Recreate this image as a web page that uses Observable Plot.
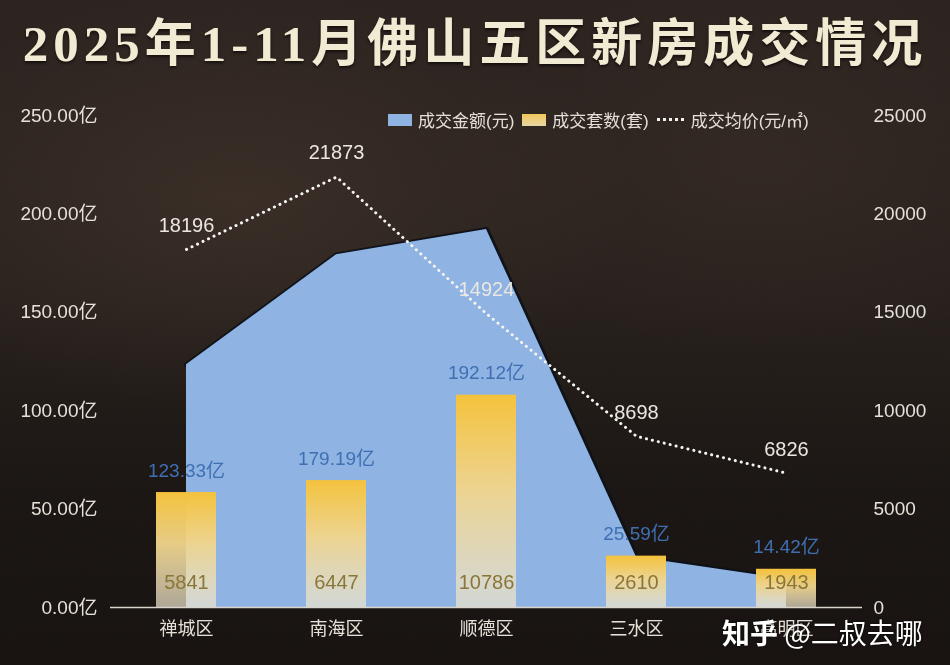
<!DOCTYPE html>
<html>
<head>
<meta charset="utf-8">
<script src="https://cdn.jsdelivr.net/npm/d3@7"></script>
<script src="https://cdn.jsdelivr.net/npm/@observablehq/plot@0.6"></script>
<style>
  html, body { margin: 0; padding: 0; }
  body { width: 950px; height: 665px; overflow: hidden; }
  #wrap {
    position: relative; width: 950px; height: 665px;
    background:
      radial-gradient(ellipse 60% 45% at 25% 30%, rgba(80,64,52,0.45), rgba(0,0,0,0) 70%),
      radial-gradient(ellipse 50% 40% at 80% 25%, rgba(70,56,46,0.35), rgba(0,0,0,0) 70%),
      linear-gradient(180deg, #2e2521 0%, #29211d 45%, #1c1714 75%, #191411 100%);
    font-family: "Liberation Sans", "Noto Sans CJK SC", sans-serif;
  }
  #noise { position: absolute; left: 0; top: 0; opacity: 0.22; mix-blend-mode: multiply; }
  #title {
    position: absolute; left: 0; width: 950px; top: 14px; text-align: center;
    font-family: "Liberation Serif", "Noto Sans CJK SC", serif;
    font-weight: bold; font-size: 51px; letter-spacing: 5px; color: #f2ebd3;
    line-height: 60px; text-shadow: 0 2px 3px rgba(0,0,0,0.6);
  }
  #legend {
    position: absolute; left: 388px; top: 107px; display: flex; align-items: center;
    font-size: 17px; color: #e4e0d8; white-space: nowrap;
  }
  #legend .sw { display: inline-block; width: 24px; height: 12px; margin-right: 6px; }
  #legend .item { display: flex; align-items: center; margin-right: 8px; }
  #legend .dots { display: inline-block; width: 27px; height: 0; border-top: 3px dotted #f4f2ee; margin-right: 7px; }
  #chart { position: absolute; left: 0; top: 0; }
  #wm {
    position: absolute; left: 722px; top: 612px; font-size: 28px; color: #ffffff;
    font-family: "Noto Sans CJK SC", sans-serif; white-space: nowrap;
    text-shadow: 0 0 3px rgba(0,0,0,0.8);
  }
</style>
</head>
<body>
<div id="wrap">
  <svg id="noise" width="950" height="665">
    <filter id="nz"><feTurbulence type="fractalNoise" baseFrequency="0.9" numOctaves="3" seed="4"/><feColorMatrix type="saturate" values="0"/></filter>
    <rect width="950" height="665" filter="url(#nz)"/>
  </svg>
  <div id="title">2025年1-11月佛山五区新房成交情况</div>
  <div id="chart"></div>
  <div id="legend">
    <span class="item"><span class="sw" style="background:#8fb4e3"></span>成交金额(元)</span>
    <span class="item"><span class="sw" style="background:linear-gradient(180deg,#f1c75a,#e6d6a6)"></span>成交套数(套)</span>
    <span class="item"><span class="dots"></span>成交均价(元/㎡)</span>
  </div>
  <div id="wm"><b>知乎</b> @二叔去哪</div>
</div>
<script>
// ---- data ----
const districts = ["禅城区", "南海区", "顺德区", "三水区", "高明区"];
const amountYi = [123.33, 179.19, 192.12, 25.59, 14.42];   // 成交金额 (亿元)
const units = [5841, 6447, 10786, 2610, 1943];              // 成交套数 (套)
const avgPrice = [18196, 21873, 14924, 8698, 6826];         // 成交均价 (元/㎡)
const rightTicks = [0, 5000, 10000, 15000, 20000, 25000];
const leftTicksYi = [0, 50, 100, 150, 200, 250];

const YI_TO_RIGHT = 100; // 250亿 on the left axis ↔ 25000 on the right axis

const rows = districts.map((d, i) => ({
  district: d,
  amount: amountYi[i],
  units: units[i],
  price: avgPrice[i]
}));

const fontNum = "Liberation Sans, Noto Sans CJK SC, sans-serif";

const chart = Plot.plot({
  width: 950,
  height: 665,
  marginTop: 115,
  marginBottom: 58,
  marginLeft: 110,
  marginRight: 88,
  style: {background: "transparent", color: "#e6e1d8", fontFamily: fontNum, overflow: "visible"},
  x: {domain: districts, paddingInner: 0.6, paddingOuter: 0.3, axis: null},
  y: {domain: [0, 25000], axis: null},
  marks: [
    Plot.lineY(rows, {x: "district", y: d => d.amount * YI_TO_RIGHT, stroke: "#0d121a", strokeWidth: 5, strokeOpacity: 0.9}),
    Plot.areaY(rows, {x: "district", y: d => d.amount * YI_TO_RIGHT, fill: "#8fb4e3"}),
    Plot.barY(rows, {x: "district", y: "units", fill: "url(#barGrad)"}),
    Plot.ruleY([0], {stroke: "#d9d5cd", strokeWidth: 1.5}),
    Plot.lineY(rows, {x: "district", y: "price", stroke: "#f6f4f0", strokeWidth: 3, strokeDasharray: "0.1,6", strokeLinecap: "round"}),
    Plot.text(rows, {x: "district", y: "price", text: d => String(d.price), dy: -24, fill: "#ebe7e0", fontSize: 20}),
    Plot.text(rows, {x: "district", y: "units", text: d => d.amount.toFixed(2) + "亿", dy: -22, fill: "#3f6fb3", fontSize: 19}),
    Plot.text(rows, {x: "district", frameAnchor: "bottom", text: d => String(d.units), dy: -19, fill: "#8a7638", fontSize: 20}),
    Plot.axisY({anchor: "left", ticks: leftTicksYi.map(v => v * YI_TO_RIGHT), tickSize: 0, tickPadding: 13, fontSize: 19,
      tickFormat: d => (d / YI_TO_RIGHT).toFixed(2) + "亿", label: null}),
    Plot.axisY({anchor: "right", ticks: rightTicks, tickSize: 0, tickPadding: 11, fontSize: 19, tickFormat: d => String(d), label: null}),
    Plot.axisX({anchor: "bottom", tickSize: 0, tickPadding: 15, fontSize: 18, label: null})
  ]
});

const defs = d3.select(chart).insert("defs", ":first-child");
const g = defs.append("linearGradient").attr("id", "barGrad").attr("x1", 0).attr("y1", 0).attr("x2", 0).attr("y2", 1);
g.append("stop").attr("offset", "0%").attr("stop-color", "#f4c23c").attr("stop-opacity", 1);
g.append("stop").attr("offset", "45%").attr("stop-color", "#f1d58c").attr("stop-opacity", 0.95);
g.append("stop").attr("offset", "100%").attr("stop-color", "#efe6cf").attr("stop-opacity", 0.7);

document.getElementById("chart").appendChild(chart);
</script>
</body>
</html>
